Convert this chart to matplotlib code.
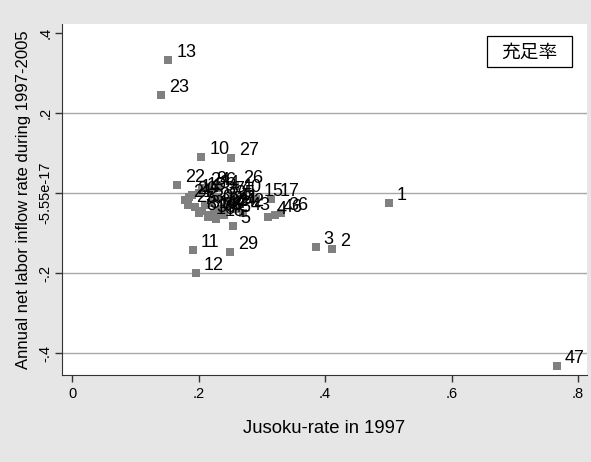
import matplotlib.pyplot as plt
from matplotlib.patches import Rectangle

# prefecture id, jusoku-rate 1997, net labor inflow rate 1997-2005
pref = [1, 2, 3, 5, 10, 11, 12, 13, 22, 23, 27, 29, 47,
        4, 46, 36, 15, 17, 43, 26, 40, 24, 9, 6, 34, 14, 21, 25, 30,
        31, 39, 38, 32, 28, 33, 35, 37, 41, 42, 44, 45, 7, 8, 16, 18, 19, 20]
jusoku = [0.501, 0.411, 0.385, 0.254, 0.204, 0.191, 0.196, 0.152, 0.166, 0.141, 0.251, 0.250, 0.766,
          0.310, 0.320, 0.330, 0.290, 0.315, 0.270, 0.258, 0.255, 0.205, 0.215, 0.230, 0.220, 0.190,
          0.178, 0.183, 0.210, 0.205, 0.215, 0.225, 0.235, 0.240, 0.220, 0.245, 0.230, 0.250, 0.260,
          0.232, 0.240, 0.195, 0.200, 0.215, 0.228, 0.200, 0.185]
inflow = [-0.025, -0.140, -0.135, -0.0825, 0.090, -0.1425, -0.200, 0.333, 0.020, 0.245, 0.0875, -0.1475, -0.4325,
          -0.060, -0.055, -0.050, -0.015, -0.015, -0.050, 0.018, -0.005, 0.012, 0.015, 0.012, 0.005, -0.005,
          -0.018, -0.030, -0.030, -0.045, -0.055, -0.050, -0.040, -0.035, -0.025, -0.020, -0.010, -0.030, -0.040,
          -0.045, -0.055, -0.035, -0.050, -0.060, -0.065, 0.000, -0.010]

yticks = [0.4, 0.2, 0.0, -0.2, -0.4]
ytick_labels = ['.4', '.2', '-5.55e-17', '-.2', '-.4']
xticks = [0, 0.2, 0.4, 0.6, 0.8]
xtick_labels = ['0', '.2', '.4', '.6', '.8']

plt.rcParams['font.family'] = ['Liberation Sans', 'Noto Sans CJK JP', 'DejaVu Sans']

fig = plt.figure(figsize=(5.91, 4.62), dpi=100)
fig.patch.set_facecolor('#e6e6e6')
ax = fig.add_axes([0.105, 0.188, 0.888, 0.760])
ax.set_facecolor('white')

for yv in [0.2, 0.0, -0.2, -0.4]:
    ax.axhline(yv, color='#a8a8a8', lw=1, zorder=1)

ax.scatter(jusoku, inflow, marker='s', s=34, color='#808080', linewidths=0, zorder=2)
for p, xv, yv in zip(pref, jusoku, inflow):
    ax.annotate(str(p), (xv, yv), xytext=(8, 3), textcoords='offset pixels',
                fontsize=13, ha='left', va='baseline', zorder=3)

ax.set_xlim(-0.016, 0.814)
ax.set_ylim(-0.455, 0.4225)
ax.set_xticks(xticks)
ax.set_xticklabels(xtick_labels, fontsize=10.5)
ax.set_yticks(yticks)
ax.set_yticklabels(ytick_labels, fontsize=10.5, rotation=90, va='center')
ax.tick_params(length=5, width=1, color='#333333')
ax.tick_params(axis='y', pad=2)

for s in ['top', 'right']:
    ax.spines[s].set_visible(False)
for s in ['left', 'bottom']:
    ax.spines[s].set_color('#333333')

ax.set_xlabel('Jusoku-rate in 1997', fontsize=13.3, labelpad=14)
ax.set_ylabel('Annual net labor inflow rate during 1997-2005', fontsize=12, labelpad=5)

# legend box
ax.add_patch(Rectangle((0.81, 0.877), 0.161, 0.089, transform=ax.transAxes,
                       facecolor='white', edgecolor='black', lw=0.9, zorder=4))
ax.text(0.890, 0.921, '充足率', transform=ax.transAxes, fontsize=13.5,
        family=['Noto Sans CJK JP'], ha='center', va='center', zorder=5)

fig.savefig('out.png', dpi=100, facecolor=fig.get_facecolor())
